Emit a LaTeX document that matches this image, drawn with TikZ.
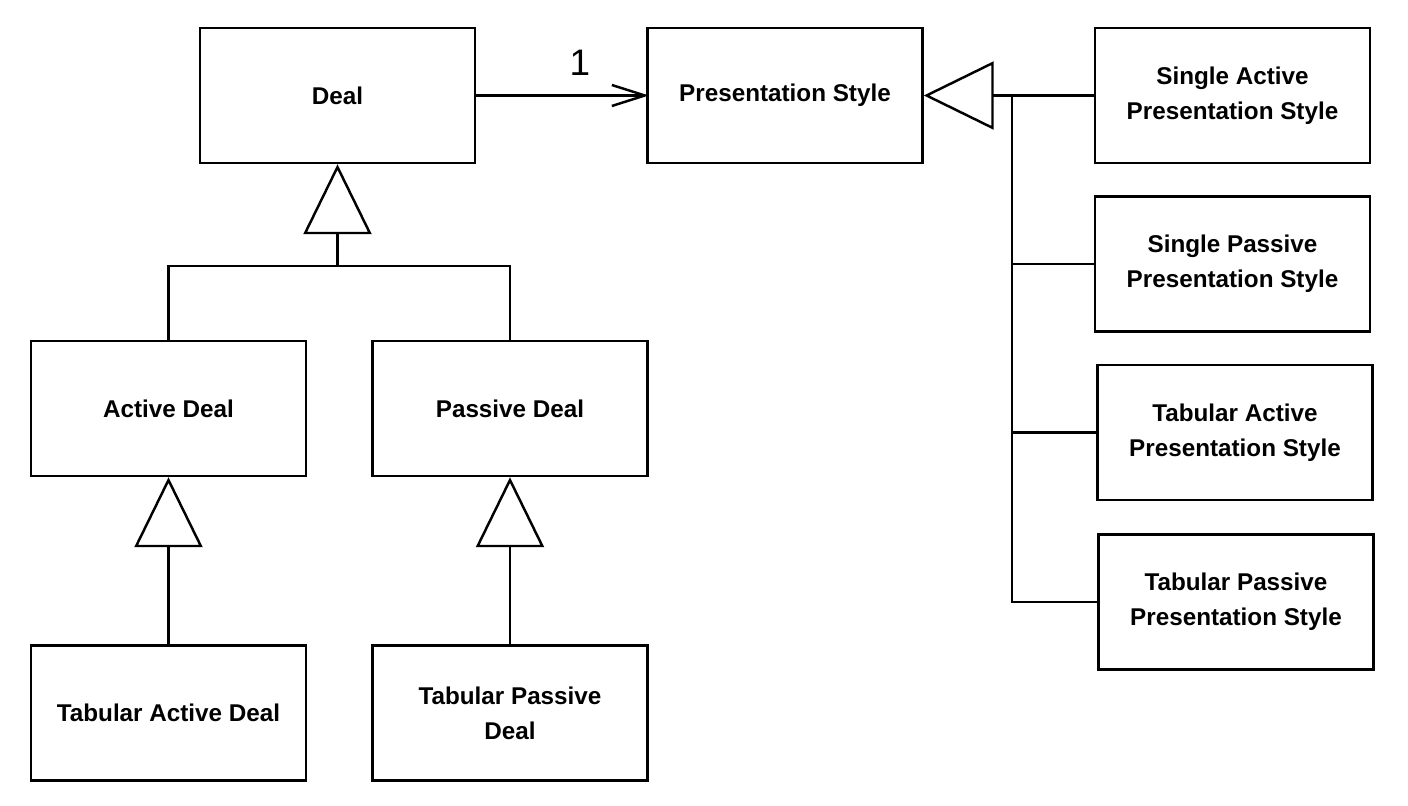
\documentclass[tikz,border=0pt]{standalone}
\usepackage{fontspec}
\setmainfont{Liberation Sans}
\usetikzlibrary{arrows.meta,positioning,calc}

\tikzset{
  classbox/.style={draw, line width=1.4pt, minimum width=5.5cm, minimum height=2.7cm, align=center, font=\fontsize{13.8}{20}\selectfont\bfseries},
  inherits/.style={line width=1.4pt, -{Triangle[open, length=1.4cm, width=1.36cm, fill=white]}},
  assoc/.style={line width=1.4pt, -{Straight Barb[length=6.6mm, width=4.2mm]}},
  link/.style={line width=1.4pt},
}

\begin{document}
\begin{tikzpicture}
  \useasboundingbox (0,0) rectangle (28.16,-16.12);

  %% Deal hierarchy
  \node[classbox] (deal)     at (6.75,-1.91)  {Deal};
  \node[classbox] (adeal)    at (3.37,-8.17)  {Active Deal};
  \node[classbox] (pdeal)    at (10.2,-8.17)  {Passive Deal};
  \node[classbox] (tadeal)   at (3.37,-14.26) {Tabular Active Deal};
  \node[classbox] (tpdeal)   at (10.2,-14.26) {Tabular Passive\\Deal};

  %% Presentation style hierarchy
  \node[classbox] (pstyle)   at (15.7,-1.91)  {Presentation Style};
  \node[classbox] (sapstyle) at (24.65,-1.91) {Single Active\\Presentation Style};
  \node[classbox] (sppstyle) at (24.65,-5.28) {Single Passive\\Presentation Style};
  \node[classbox] (tapstyle) at (24.7,-8.65)  {Tabular Active\\Presentation Style};
  \node[classbox] (tppstyle) at (24.72,-12.04) {Tabular Passive\\Presentation Style};

  %% Association Deal -> Presentation Style
  \draw[assoc] (deal.east) -- node[pos=0.6, above=0.25cm, font=\fontsize{21}{24}\selectfont] (mult) {1} ([xshift=1.5pt]pstyle.west);

  %% Generalisation: Active / Passive Deal
  \coordinate (dealjoin) at ($(deal.south)+(0,-2.04)$);
  \draw[link] (adeal.north) |- (dealjoin) -| (pdeal.north);
  \draw[inherits] (dealjoin) -- (deal.south);

  %% Generalisation: tabular deals
  \draw[inherits] (tadeal.north) -- (adeal.south);
  \draw[inherits] (tpdeal.north) -- (pdeal.south);

  %% Generalisation: presentation styles
  \coordinate (psjoin) at ($(pstyle.east)+(1.76,0)$);
  \draw[inherits] (sapstyle.west) -- (pstyle.east);
  \draw[link] (psjoin) |- (tppstyle.west);
  \draw[link] (psjoin |- sppstyle.west) -- (sppstyle.west);
  \draw[link] (psjoin |- tapstyle.west) -- (tapstyle.west);
\end{tikzpicture}
\end{document}
